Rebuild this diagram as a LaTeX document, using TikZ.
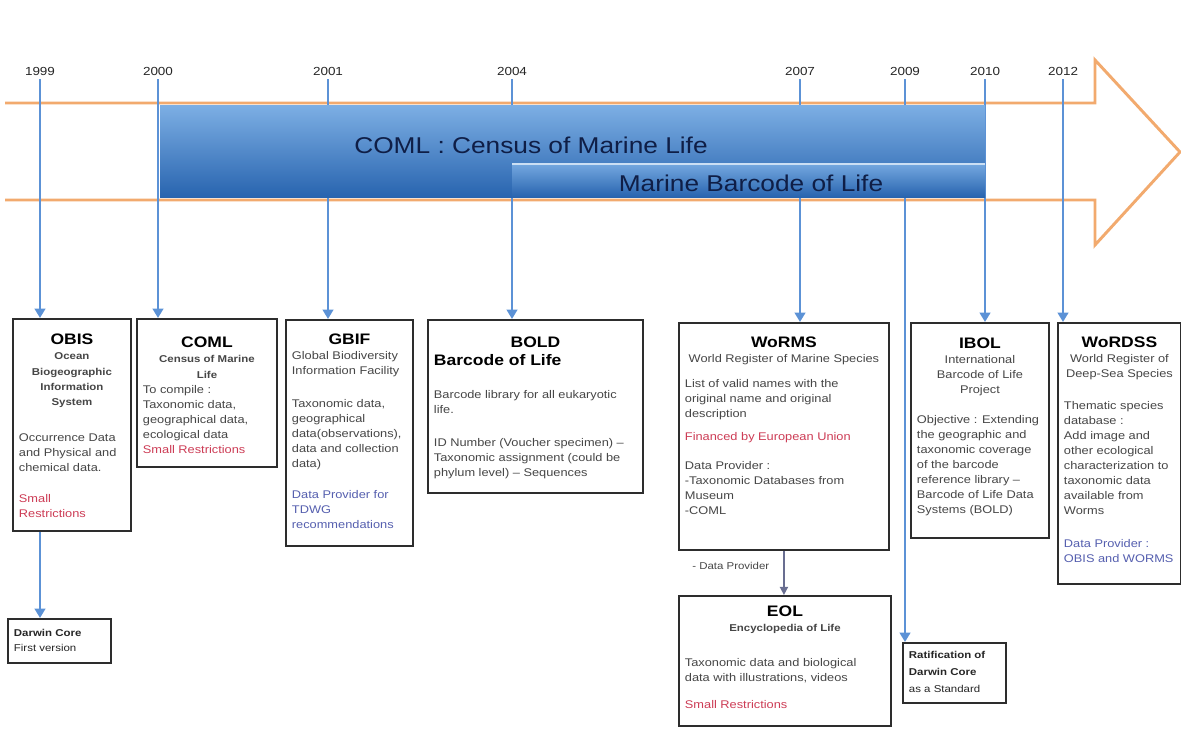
\documentclass[tikz,border=0pt]{standalone}
\usepackage{fontspec}
\setmainfont{Liberation Sans}[FakeStretch=1.15]
\usetikzlibrary{arrows.meta}

\definecolor{yearblue}{RGB}{92,146,214}
\definecolor{arroworange}{RGB}{242,170,110}
\definecolor{barlight}{RGB}{125,175,228}
\definecolor{barmid}{RGB}{80,138,205}
\definecolor{bardark}{RGB}{40,100,175}
\definecolor{bartxt}{RGB}{15,30,70}
\definecolor{boxgray}{RGB}{45,45,45}
\definecolor{bodygray}{RGB}{70,70,70}
\definecolor{restr}{RGB}{205,60,85}
\definecolor{provblue}{RGB}{85,95,175}
\definecolor{provline}{RGB}{105,110,145}

\newlength{\pxu}
\setlength{\pxu}{0.03cm}
\newcommand{\ttlfont}{\fontsize{13}{15}\selectfont\bfseries\color{black}}
\newcommand{\subfont}{\fontsize{8.5}{13}\selectfont\bfseries}
\newcommand{\bodyfont}{\fontsize{9.5}{12.8}\selectfont}
\newcommand{\yearfont}{\fontsize{10}{12}\selectfont}
\newcommand{\barfont}{\fontsize{19.5}{22}\selectfont}
% box content: [top gap]{width px}{height px}{text}
\newcommand{\boxbody}[4][10]{\parbox[c][\dimexpr#3\pxu-8\pxu\relax][t]{\dimexpr#2\pxu-12\pxu\relax}{\vspace{#1\pxu}#4}}

\begin{document}
\begin{tikzpicture}[x=0.03cm, y=-0.03cm,
  yearline/.style={draw=yearblue, line width=2.4pt, -{Triangle[length=8pt,width=9pt]}},
  infobox/.style={draw=boxgray, line width=1.6pt, fill=white, inner xsep=0.18cm, inner ysep=0.12cm, anchor=north west, text=bodygray, font=\bodyfont},
  yearlabel/.style={font=\yearfont, text=black!85},
  bartext/.style={font=\barfont, text=bartxt}]
\useasboundingbox (0,0) rectangle (1181,729);

% the big arrow
\fill[white] (5,103) -- (1095,103) -- (1095,60) -- (1180,152) -- (1095,245) -- (1095,200) -- (5,200) -- cycle;
\draw[arroworange, line width=2.5pt] (5,103) -- (1095,103) -- (1095,60) -- (1180,152) -- (1095,245) -- (1095,200) -- (5,200);

% years
\node[yearlabel] (y1999) at (40,71) {1999};
\node[yearlabel] (y2000) at (158,71) {2000};
\node[yearlabel] (y2001) at (328,71) {2001};
\node[yearlabel] (y2004) at (512,71) {2004};
\node[yearlabel] (y2007) at (800,71) {2007};
\node[yearlabel] (y2009) at (905,71) {2009};
\node[yearlabel] (y2010) at (985,71) {2010};
\node[yearlabel] (y2012) at (1063,71) {2012};

% boxes
\node[infobox] (obis) at (12,318) {\boxbody[11]{118}{212}{\centering
  {\ttlfont OBIS\par}
  {\subfont Ocean\\Biogeographic\\Information\\System\par}
  \vspace{21\pxu}\raggedright
  Occurrence Data\\and Physical and\\chemical data.\par
  \vspace{16\pxu}
  {\color{restr}Small\\Restrictions\par}}};

\node[infobox] (coml) at (136,318) {\boxbody[14]{140}{148}{\centering
  {\ttlfont COML\par}
  {\subfont Census of Marine\\Life\par}
  \raggedright
  To compile :\\Taxonomic data,\\geographical data,\\ecological data\par
  {\color{restr}Small Restrictions\par}}};

\node[infobox] (gbif) at (285,319) {\boxbody[10]{127}{226}{\centering
  {\ttlfont GBIF\par}
  \raggedright
  Global Biodiversity\\Information Facility\par
  \vspace{18\pxu}
  Taxonomic data,\\geographical\\data(observations),\\data and collection\\data)\par
  \vspace{16\pxu}
  {\color{provblue}Data Provider for\\TDWG\\recommendations\par}}};

\node[infobox] (bold) at (427,319) {\boxbody[13]{215}{173}{\centering
  {\ttlfont BOLD\par}
  \raggedright
  {\ttlfont Barcode of Life\par}
  \vspace{18\pxu}
  Barcode library for all eukaryotic\\life.\par
  \vspace{18\pxu}
  ID Number (Voucher specimen) --\\Taxonomic assignment (could be\\phylum level) -- Sequences\par}};

\node[infobox] (worms) at (678,322) {\boxbody[10]{210}{227}{\centering
  {\ttlfont WoRMS\par}
  World Register of  Marine Species\par
  \vspace{10\pxu}\raggedright
  List of valid names with the\\original name and original\\description\par
  \vspace{8\pxu}
  {\color{restr}Financed by European Union\par}
  \vspace{14\pxu}
  Data Provider :\\-Taxonomic Databases from\\Museum\\-COML\par}};

\node[infobox] (eol) at (678,595) {\boxbody[6]{212}{130}{\centering
  {\ttlfont EOL\par}
  {\subfont Encyclopedia of Life\par}
  \vspace{20\pxu}\raggedright
  Taxonomic data and biological\\data with illustrations, videos\par
  \vspace{12\pxu}
  {\color{restr}Small Restrictions\par}}};

\node[infobox] (ibol) at (910,322) {\boxbody[11]{138}{215}{\centering
  {\ttlfont IBOL\par}
  International\\Barcode of Life\\Project\par
  \vspace{15\pxu}\raggedright
  Objective : Extending\\the geographic and\\taxonomic coverage\\of the barcode\\reference library --\\Barcode of Life Data\\Systems (BOLD)\par}};

\node[infobox] (wordss) at (1057,322) {\boxbody[10]{123}{261}{\centering
  {\ttlfont WoRDSS\par}
  World Register of\\Deep-Sea Species\par
  \vspace{17\pxu}\raggedright
  Thematic species\\database :\\Add image and\\other ecological\\characterization to\\taxonomic data\\available from\\Worms\par
  \vspace{18\pxu}
  {\color{provblue}Data Provider :\\OBIS and WORMS\par}}};

\node[infobox, text=black!85] (dwc) at (7,618) {\boxbody[6]{103}{44}{\raggedright\fontsize{8.5}{12.8}\selectfont
  {\bfseries Darwin Core}\\First version\par}};

\node[infobox, text=black!85] (ratif) at (902,642) {\boxbody[4]{103}{60}{\raggedright\fontsize{8.5}{14.5}\selectfont
  {\bfseries Ratification of\\Darwin Core}\\as a Standard\par}};

% connectors
\draw[yearline] (y1999.south) -- (y1999.south |- obis.north);
\draw[yearline] (y2000.south) -- (y2000.south |- coml.north);
\draw[yearline] (y2001.south) -- (y2001.south |- gbif.north);
\draw[yearline] (y2004.south) -- (y2004.south |- bold.north);
\draw[yearline] (y2007.south) -- (y2007.south |- worms.north);
\draw[yearline] (y2009.south) -- (y2009.south |- ratif.north);
\draw[yearline] (y2010.south) -- (y2010.south |- ibol.north);
\draw[yearline] (y2012.south) -- (y2012.south |- wordss.north);
\draw[yearline] (obis.south -| y1999) -- (dwc.north -| y1999);
\draw[provline, line width=1.3pt, -{Triangle[length=7pt,width=7pt]}] (worms.south) -- (worms.south |- eol.north)
  node[pos=0.35, left=10\pxu, font=\fontsize{8.5}{10}\selectfont, text=bodygray] (dptxt) {- Data Provider};

% the COML bar, over the lines
\shade[top color=barlight, middle color=barmid, bottom color=bardark] (160,105) rectangle (985,197);
\shade[top color=barlight!80!barmid, bottom color=bardark] (512,164) rectangle (985,197);
\draw[white!60!barlight, line width=1.2pt] (512,164) -- (985,164);
\node[bartext] (comltxt) at (531,145) {COML : Census of Marine Life};
\node[bartext] (mbltxt) at (751,183) {Marine Barcode of Life};
\end{tikzpicture}
\end{document}
